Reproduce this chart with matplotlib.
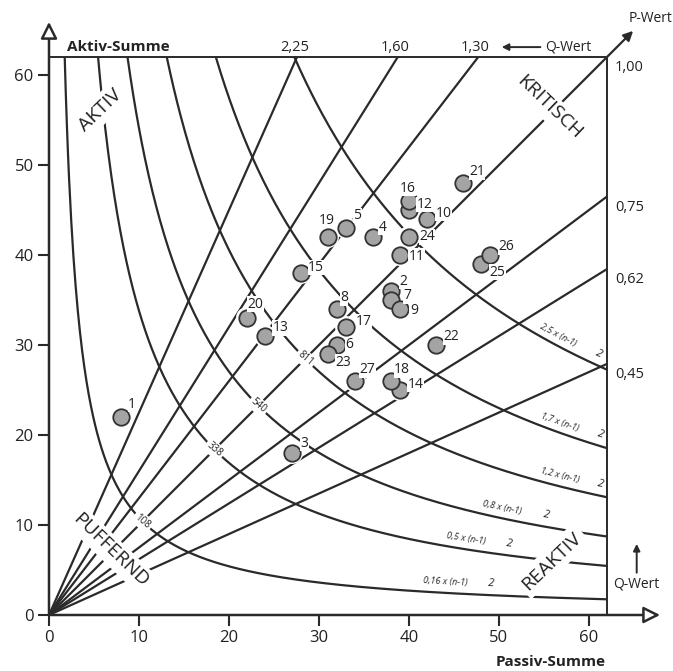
import numpy as np
import matplotlib
matplotlib.use('Agg')
import matplotlib.pyplot as plt

plt.rcParams['font.family'] = ['Open Sans', 'DejaVu Sans']

# model data
N_ELEMENTS = 27
BOX = 62

Q_STEEP = [2.25, 1.60, 1.30]          # Q lines that end on the top edge
Q_STEEP_LABELS = ['2,25', '1,60', '1,30']
Q_FLAT = [1.00, 0.75, 0.62, 0.45]     # Q lines that end on the right edge
Q_FLAT_LABELS = ['1,00', '0,75', '0,62', '0,45']

P_FACTORS = [0.16, 0.5, 0.8, 1.2, 1.7, 2.5]   # P = factor * (n-1)^2
P_FACTOR_LABELS = ['0,16', '0,5', '0,8', '1,2', '1,7', '2,5']
P_DIAG_LABELS = ['108', '338', '540', '811']

ids = list(range(1, 28))
passiv = [8, 38, 27, 36, 33, 32, 38, 32, 39, 42, 39, 40, 24, 39,
          28, 40, 33, 38, 31, 22, 46, 43, 31, 40, 48, 49, 34]
aktiv = [22, 36, 18, 42, 43, 30, 35, 34, 34, 44, 40, 45, 31, 25,
         38, 46, 32, 26, 42, 33, 48, 30, 29, 42, 39, 40, 26]

# label offsets for the point numbers (points)
label_off = {1: (8, 9), 2: (9, 7), 3: (9, 7), 4: (7, 7), 5: (8, 9), 6: (9, 0),
             7: (12, 3), 8: (5, 8), 9: (10, -1), 10: (12, 4), 11: (12, -1),
             12: (11, 4), 13: (11, 6), 14: (11, 4), 15: (11, 4), 16: (-1, 9),
             17: (13, 4), 18: (8, 8), 19: (-1, 12), 20: (6, 10), 21: (10, 8),
             22: (11, 6), 23: (11, -6), 24: (13, 0), 25: (12, -6), 26: (12, 6),
             27: (9, 8)}

# where the factor labels sit along the curves (x position)
factor_label_x = [44, 46.4, 50.4, 56.8, 56.8, 56.6]
factor_sq_x = [49.1, 51.2, 55.3, 61.3, 61.3, 61.1]

LINE = '#2a2a2a'
TXT = '#222222'
WHITE_BOX = dict(facecolor='white', edgecolor='none', pad=3)

fig = plt.figure(figsize=(6.73, 6.71), dpi=100)
ax = fig.add_axes([49 / 673, 56 / 671, 558 / 673, 558 / 671])
ax.set_xlim(0, BOX)
ax.set_ylim(0, BOX)
for s in ax.spines.values():
    s.set_visible(False)

# box top/right
ax.plot([0, BOX], [BOX, BOX], color=LINE, lw=1.4, clip_on=False, zorder=3)
ax.plot([BOX, BOX], [0, BOX], color=LINE, lw=1.4, clip_on=False, zorder=3)

# axes with open arrow heads
ax.annotate('', xy=(0, 65.9), xytext=(0, 0), annotation_clip=False,
            arrowprops=dict(arrowstyle='-|>', fc='white', ec=LINE, lw=1.8,
                            mutation_scale=25, shrinkA=0, shrinkB=0), zorder=6)
ax.annotate('', xy=(67.9, 0), xytext=(0, 0), annotation_clip=False,
            arrowprops=dict(arrowstyle='-|>', fc='white', ec=LINE, lw=1.8,
                            mutation_scale=25, shrinkA=0, shrinkB=0), zorder=6)

ax.set_xticks(range(0, 61, 10))
ax.set_yticks(range(0, 61, 10))
ax.tick_params(direction='out', length=8, width=1.5, color=LINE,
               labelsize=12, labelcolor=TXT, pad=3)

# P curves (hyperbolas)
for f in P_FACTORS:
    P = f * (N_ELEMENTS - 1) ** 2
    x = np.linspace(P / BOX, BOX, 500)
    ax.plot(x, P / x, color=LINE, lw=1.6, zorder=2)

# Q lines from origin
for q in Q_STEEP:
    ax.plot([0, BOX / q], [0, BOX], color=LINE, lw=1.6, zorder=2)
for q in Q_FLAT:
    ax.plot([0, BOX], [0, BOX * q], color=LINE, lw=1.6, zorder=2)

# P-Wert arrow on the diagonal
ax.annotate('', xy=(64.9, 64.9), xytext=(BOX, BOX), annotation_clip=False,
            arrowprops=dict(arrowstyle='-|>', fc=LINE, ec=LINE, lw=1.6,
                            mutation_scale=14, shrinkA=0, shrinkB=0))
ax.text(66.8, 66.3, 'P-Wert', fontsize=10, color=TXT, ha='center', va='center',
        clip_on=False)

# Q labels
for q, lab in zip(Q_STEEP, Q_STEEP_LABELS):
    ax.text(BOX / q - 0.3, 63.1, lab, fontsize=10.5, color=TXT,
            ha='center', va='center', clip_on=False)
for q, lab in zip(Q_FLAT, Q_FLAT_LABELS):
    ax.text(62.9, BOX * q - 1.2, lab, fontsize=10.5, color=TXT,
            ha='left', va='center', clip_on=False)

ax.text(2, 63.1, 'Aktiv-Summe', fontsize=11, fontweight='bold', color=TXT,
        ha='left', va='center', clip_on=False)
ax.annotate('', xy=(50.3, 63.1), xytext=(54.6, 63.1), annotation_clip=False,
            arrowprops=dict(arrowstyle='-|>', fc=LINE, ec=LINE, lw=1.4,
                            mutation_scale=10, shrinkA=0, shrinkB=0))
ax.text(55.1, 63.1, 'Q-Wert', fontsize=10, color=TXT, ha='left', va='center',
        clip_on=False)

ax.annotate('', xy=(65.3, 7.9), xytext=(65.3, 4.7), annotation_clip=False,
            arrowprops=dict(arrowstyle='-|>', fc=LINE, ec=LINE, lw=1.4,
                            mutation_scale=10, shrinkA=0, shrinkB=0))
ax.text(65.3, 3.5, 'Q-Wert', fontsize=10, color=TXT, ha='center', va='center',
        clip_on=False)
ax.text(61.8, -5.2, 'Passiv-Summe', fontsize=11, fontweight='bold', color=TXT,
        ha='right', va='center', clip_on=False)

# region names
ax.text(5.7, 56.1, 'AKTIV', fontsize=14, rotation=44, color=TXT, ha='center',
        va='center', rotation_mode='anchor', bbox=WHITE_BOX, zorder=4)
ax.text(55.6, 56.4, 'KRITISCH', fontsize=14, rotation=-44, color=TXT,
        ha='center', va='center', rotation_mode='anchor', bbox=WHITE_BOX, zorder=4)
ax.text(6.9, 7.2, 'PUFFERND', fontsize=14, rotation=-44, color=TXT,
        ha='center', va='center', rotation_mode='anchor', bbox=WHITE_BOX, zorder=4)
ax.text(55.9, 6.0, 'REAKTIV', fontsize=14, rotation=44, color=TXT,
        ha='center', va='center', rotation_mode='anchor', bbox=WHITE_BOX, zorder=4)

# P values on the diagonal
for f, lab in zip(P_FACTORS, P_DIAG_LABELS):
    d = np.sqrt(f * (N_ELEMENTS - 1) ** 2)
    ax.text(d, d, lab, fontsize=7, rotation=-40, color=TXT, ha='center',
            va='center', rotation_mode='anchor',
            bbox=dict(facecolor='white', edgecolor='none', pad=1.5), zorder=4)

# factor labels along the curves
for f, lab, lx, sx in zip(P_FACTORS, P_FACTOR_LABELS, factor_label_x, factor_sq_x):
    P = f * (N_ELEMENTS - 1) ** 2
    ang = np.degrees(np.arctan(-P / lx ** 2))
    ax.text(lx, P / lx + 1.2, lab + ' x (n-1)', fontsize=6.5, style='italic',
            rotation=ang, color=TXT, ha='center', va='center',
            rotation_mode='anchor', zorder=4)
    ang2 = np.degrees(np.arctan(-P / sx ** 2))
    ax.text(sx, P / sx + 1.3, '2', fontsize=8, style='italic', rotation=ang2,
            color=TXT, ha='center', va='center', rotation_mode='anchor', zorder=4)

# elements
ax.scatter(passiv, aktiv, s=250, color='white', edgecolors='none', zorder=5)
ax.scatter(passiv, aktiv, s=140, color='#a4a4a4', edgecolors='#333333',
           linewidths=1.3, zorder=6)
for i, px, ay in zip(ids, passiv, aktiv):
    dx, dy = label_off[i]
    ax.annotate(str(i), (px, ay), xytext=(dx, dy), textcoords='offset points',
                fontsize=10, color=TXT, ha='center', va='center', zorder=7,
                bbox=dict(facecolor='white', edgecolor='none', pad=0.3))

fig.savefig('out.png', dpi=100)
